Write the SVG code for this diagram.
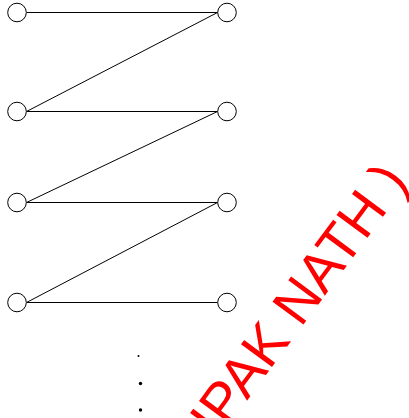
<svg xmlns="http://www.w3.org/2000/svg" width="409" height="418" viewBox="0 0 409 418">
<style>
.node circle{fill:#fff;stroke:#000;stroke-width:1}
#edges line{stroke:#000;stroke-width:1}
.dot{fill:#000}
.wm{font-family:"Liberation Sans",Arial,sans-serif;font-size:56px;fill:#ff0000}
</style>
<rect width="409" height="418" fill="#fff"/>
<g id="edges">
<line x1="26.5" y1="12.5" x2="217.5" y2="12.5"/>
<line x1="217.5" y1="12.5" x2="26.5" y2="111.5"/>
<line x1="26.5" y1="111.5" x2="217.5" y2="111.5"/>
<line x1="217.5" y1="111.5" x2="26.5" y2="202.5"/>
<line x1="26.5" y1="202.5" x2="217.5" y2="202.5"/>
<line x1="217.5" y1="202.5" x2="26.5" y2="302.5"/>
<line x1="26.5" y1="302.5" x2="217.5" y2="302.5"/>
</g>
<g id="L1" class="node"><circle cx="17" cy="12.5" r="9.3"/></g>
<g id="L2" class="node"><circle cx="17" cy="111.5" r="9.3"/></g>
<g id="L3" class="node"><circle cx="17" cy="202.5" r="9.3"/></g>
<g id="L4" class="node"><circle cx="17" cy="302.5" r="9.3"/></g>
<g id="R1" class="node"><circle cx="227" cy="12.5" r="9.3"/></g>
<g id="R2" class="node"><circle cx="227" cy="111.5" r="9.3"/></g>
<g id="R3" class="node"><circle cx="227" cy="202.5" r="9.3"/></g>
<g id="R4" class="node"><circle cx="227" cy="302.5" r="9.3"/></g>
<circle class="dot" cx="138.5" cy="356" r="1"/>
<circle class="dot" cx="140.5" cy="383.5" r="1.7"/>
<circle class="dot" cx="140.5" cy="410" r="1.7"/>
<text class="wm" transform="translate(218,440) rotate(-53.5)">IPAK NATH )</text>
</svg>
